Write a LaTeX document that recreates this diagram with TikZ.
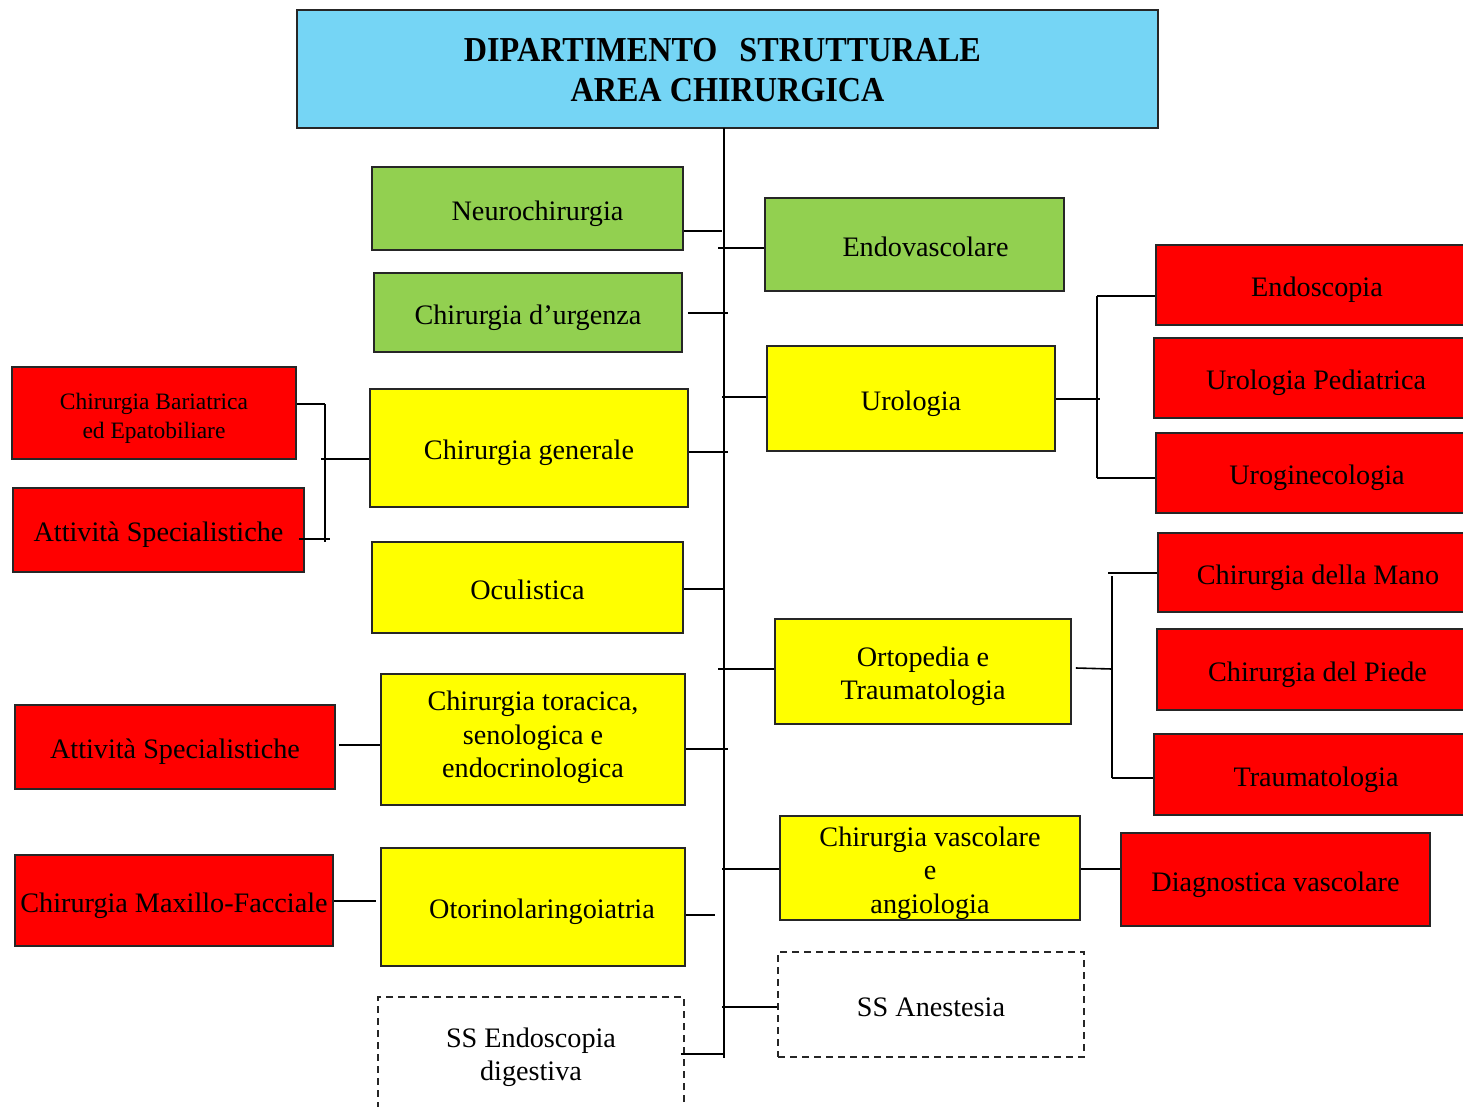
\documentclass[tikz,border=0pt]{standalone}
\usepackage{fontspec}
\setmainfont{Liberation Serif}
\newfontfamily\headfont[FakeStretch=0.92]{Liberation Serif}
\definecolor{headblue}{HTML}{75D5F5}
\definecolor{unitgreen}{HTML}{92D050}
\definecolor{unityellow}{HTML}{FFFF00}
\definecolor{unitred}{HTML}{FF0000}
% centred lines of text, set on struts and lowered by the optional amount
\newcommand\boxtext[2][5pt]{\raisebox{-#1}[\height][\depth]{\begin{tabular}{@{}c@{}}#2\end{tabular}}}
\begin{document}
\begin{tikzpicture}[x=1pt,y=-1pt,
  unit/.style={draw=black!85, line width=1.6pt, inner sep=0pt,
    font=\fontsize{28.2}{33.5}\selectfont},
  headbox/.style={unit, fill=headblue, font=\headfont\bfseries\fontsize{35}{40}\selectfont},
  greenbox/.style={unit, fill=unitgreen},
  yellowbox/.style={unit, fill=unityellow},
  redbox/.style={unit, fill=unitred},
  ssbox/.style={unit, fill=white, dash pattern=on 7pt off 5pt},
  link/.style={line width=1.6pt, black},
  spine/.style={line width=2.4pt, black}]
\useasboundingbox (0,0) rectangle (1463,1107);

% department header
\node[headbox, minimum width=861, minimum height=118] (head) at (727.5,69)
  {\boxtext[5pt]{DIPARTIMENTO\hspace{22pt}STRUTTURALE\hspace*{10pt}\\AREA CHIRURGICA}};

% units on the left of the spine
\node[greenbox, minimum width=311, minimum height=83] (neuro) at (527.5,208.5) {\boxtext{\hspace*{20pt}Neurochirurgia}};
\node[greenbox, minimum width=308, minimum height=79] (urg) at (528,312.5) {\boxtext{Chirurgia d’urgenza}};
\node[yellowbox, minimum width=318, minimum height=118] (gen) at (529,448) {\boxtext{Chirurgia generale}};
\node[yellowbox, minimum width=311, minimum height=91] (ocu) at (527.5,587.5) {\boxtext{Oculistica}};
\node[yellowbox, minimum width=304, minimum height=131] (tor) at (533,739.5) {\boxtext[-2pt]{Chirurgia toracica,\\senologica e\\endocrinologica}};
\node[yellowbox, minimum width=304, minimum height=118] (otor) at (533,907) {\boxtext{\hspace*{18pt}Otorinolaringoiatria}};
\node[ssbox, minimum width=306, minimum height=111] (sendo) at (531,1052.5) {\boxtext{SS Endoscopia\\digestiva}};

% units on the right of the spine
\node[greenbox, minimum width=299, minimum height=93] (endo) at (914.5,244.5) {\boxtext{\hspace*{22pt}Endovascolare}};
\node[yellowbox, minimum width=288, minimum height=105] (uro) at (911,398.5) {\boxtext{Urologia}};
\node[yellowbox, minimum width=296, minimum height=105] (orto) at (923,671.5) {\boxtext{Ortopedia e\\Traumatologia}};
\node[yellowbox, minimum width=300, minimum height=104] (vasc) at (930,868) {\boxtext{Chirurgia vascolare\\e\\angiologia}};
\node[ssbox, minimum width=306, minimum height=105] (anest) at (931,1004.5) {\boxtext{SS Anestesia}};

% sub-units (right)
\node[redbox, minimum width=322, minimum height=80] (endosc) at (1317,285) {\boxtext{Endoscopia}};
\node[redbox, minimum width=324, minimum height=80] (uroped) at (1316,378) {\boxtext{Urologia Pediatrica}};
\node[redbox, minimum width=322, minimum height=80] (urogin) at (1317,473) {\boxtext{Uroginecologia}};
\node[redbox, minimum width=320, minimum height=79] (mano) at (1318,572.5) {\boxtext{Chirurgia della Mano}};
\node[redbox, minimum width=321, minimum height=81] (piede) at (1317.5,669.5) {\boxtext{Chirurgia del Piede}};
\node[redbox, minimum width=324, minimum height=81] (trauma) at (1316,774.5) {\boxtext{Traumatologia}};
\node[redbox, minimum width=309, minimum height=93] (diag) at (1275.5,879.5) {\boxtext{Diagnostica vascolare}};

% sub-units (left)
\node[redbox, minimum width=284, minimum height=92, font=\fontsize{23.5}{29}\selectfont] (bar) at (154,413) {\boxtext{Chirurgia Bariatrica\\ed Epatobiliare}};
\node[redbox, minimum width=291, minimum height=84] (att1) at (158.5,530) {\boxtext{Attività Specialistiche}};
\node[redbox, minimum width=320, minimum height=84] (att2) at (175,747) {\boxtext{Attività Specialistiche}};
\node[redbox, minimum width=318, minimum height=91] (maxi) at (174,900.5) {\boxtext{Chirurgia Maxillo-Facciale}};

% central spine
\coordinate (spinetop) at (724,128);
\coordinate (spinebot) at (724,1058);
\draw[spine] (spinetop) -- (spinebot);

% branches to the spine
\draw[link] (neuro.east |- 0,231) -- ([xshift=-2pt]spinetop |- 0,231);
\draw[link] (endo.west |- 0,248) -- ([xshift=-6pt]spinetop |- 0,248);
\draw[link] ([xshift=5pt]urg.east |- 0,313) -- ([xshift=4pt]spinetop |- 0,313);
\draw[link] (uro.west |- 0,397) -- ([xshift=-2pt]spinetop |- 0,397);
\draw[link] (gen.east |- 0,452) -- ([xshift=4pt]spinetop |- 0,452);
\draw[link] (ocu.east |- 0,589) -- (spinetop |- 0,589);
\draw[link] (orto.west |- 0,669) -- ([xshift=-6pt]spinetop |- 0,669);
\draw[link] (tor.east |- 0,749) -- ([xshift=4pt]spinetop |- 0,749);
\draw[link] (vasc.west |- 0,869) -- ([xshift=-2pt]spinetop |- 0,869);
\draw[link] (otor.east |- 0,915) -- ([xshift=-9pt]spinetop |- 0,915);
\draw[link] (anest.west |- 0,1007) -- ([xshift=-2pt]spinetop |- 0,1007);
\draw[link] ([xshift=-4pt]sendo.east |- 0,1054) -- (spinetop |- 0,1054);

% Urologia bracket
\coordinate (ubt) at (1097,296);
\coordinate (ubb) at (1097,478);
\draw[link] (uro.east |- 0,399) -- ([xshift=3pt]ubt |- 0,399);
\draw[link] (ubt) -- (ubb);
\draw[link] (ubt) -- (endosc.west |- ubt);
\draw[link] (ubb) -- (urogin.west |- ubb);

% Ortopedia bracket
\coordinate (obt) at (1112,576);
\coordinate (obb) at (1112,778);
\draw[link] ([xshift=4pt]orto.east |- 0,668) -- (obt |- 0,669);
\draw[link] (obt) -- (obb);
\draw[link] ([xshift=-4pt]obt |- 0,573) -- (mano.west |- 0,573);
\draw[link] (obb) -- (trauma.west |- obb);

% Chirurgia vascolare branch
\draw[link] (vasc.east |- 0,869) -- (diag.west |- 0,869);

% Chirurgia generale bracket
\coordinate (gbt) at (325,404);
\coordinate (gbb) at (325,542);
\draw[link] (bar.east |- gbt) -- (gbt);
\draw[link] (gbt) -- (gbb);
\draw[link] ([xshift=-6pt]att1.east |- 0,539) -- ([xshift=5pt]gbb |- 0,539);
\draw[link] ([xshift=-4pt]gbt |- 0,459) -- (gen.west |- 0,459);

% remaining side links
\draw[link] ([xshift=3pt]att2.east |- 0,745) -- (tor.west |- 0,745);
\draw[link] (maxi.east |- 0,901) -- ([xshift=-4pt]otor.west |- 0,901);
\end{tikzpicture}
\end{document}
